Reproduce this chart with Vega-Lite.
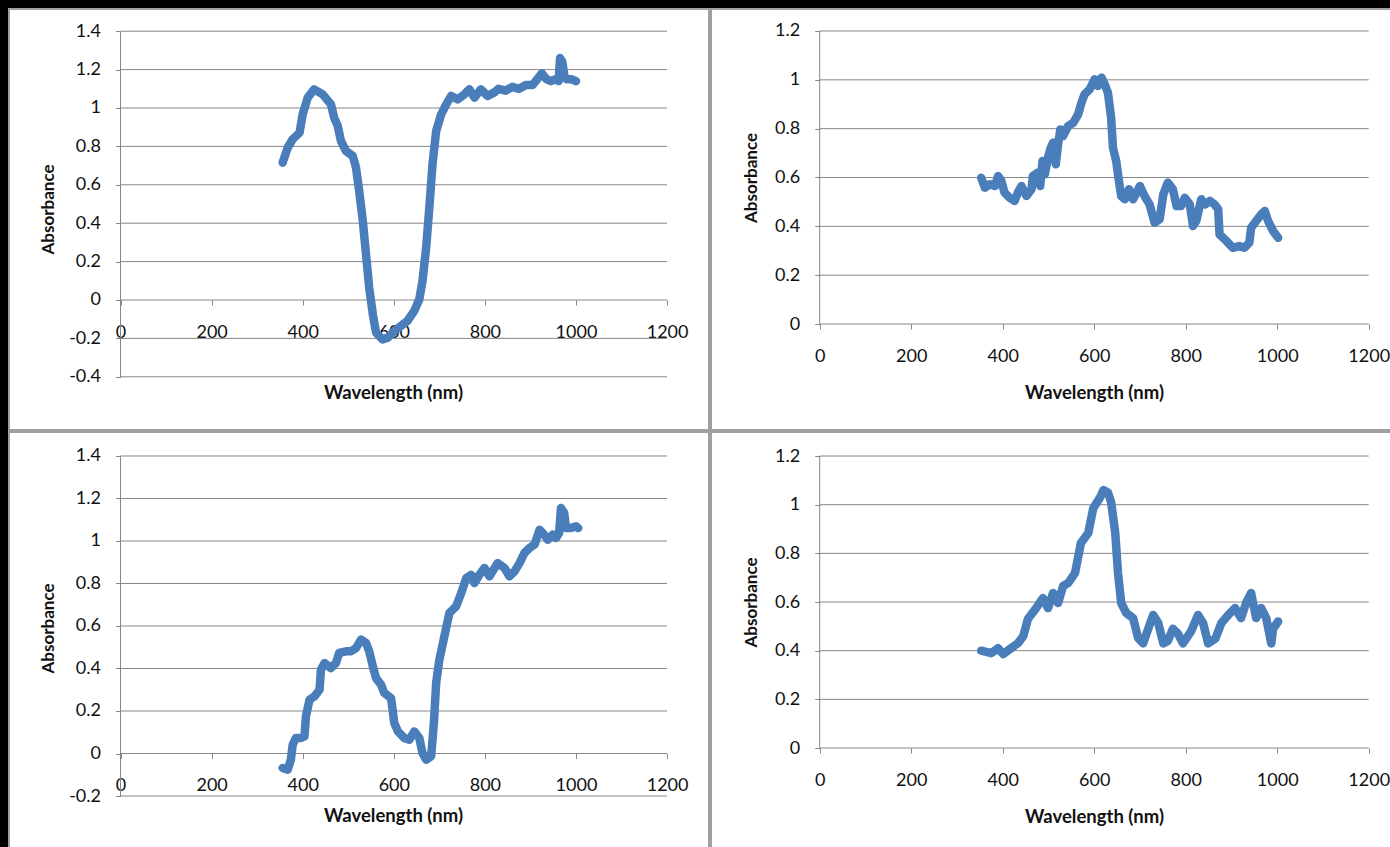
{
  "$schema": "https://vega.github.io/schema/vega-lite/v6.json",
  "background": "black",
  "padding": {"left": 8, "top": 8, "right": 0, "bottom": 0},
  "spacing": 0,
  "datasets": {
    "p1": [
      {"wl": 356, "a": 0.715}, {"wl": 367, "a": 0.793}, {"wl": 378, "a": 0.837}, {"wl": 393, "a": 0.871}, {"wl": 400, "a": 0.967},
      {"wl": 411, "a": 1.054}, {"wl": 425, "a": 1.097}, {"wl": 444, "a": 1.071}, {"wl": 462, "a": 1.019}, {"wl": 469, "a": 0.95},
      {"wl": 477, "a": 0.906}, {"wl": 484, "a": 0.828}, {"wl": 495, "a": 0.776}, {"wl": 510, "a": 0.75}, {"wl": 517, "a": 0.689},
      {"wl": 524, "a": 0.568}, {"wl": 532, "a": 0.411}, {"wl": 539, "a": 0.238}, {"wl": 546, "a": 0.064}, {"wl": 554, "a": -0.075},
      {"wl": 561, "a": -0.17}, {"wl": 575, "a": -0.205}, {"wl": 587, "a": -0.196}, {"wl": 601, "a": -0.161}, {"wl": 616, "a": -0.135},
      {"wl": 630, "a": -0.109}, {"wl": 645, "a": -0.057}, {"wl": 656, "a": 0.004}, {"wl": 663, "a": 0.099}, {"wl": 671, "a": 0.272},
      {"wl": 678, "a": 0.481}, {"wl": 685, "a": 0.707}, {"wl": 693, "a": 0.88}, {"wl": 704, "a": 0.967}, {"wl": 715, "a": 1.019},
      {"wl": 726, "a": 1.063}, {"wl": 740, "a": 1.045}, {"wl": 755, "a": 1.071}, {"wl": 766, "a": 1.097}, {"wl": 777, "a": 1.054},
      {"wl": 791, "a": 1.097}, {"wl": 806, "a": 1.063}, {"wl": 820, "a": 1.08}, {"wl": 830, "a": 1.1}, {"wl": 845, "a": 1.09},
      {"wl": 860, "a": 1.11}, {"wl": 875, "a": 1.1}, {"wl": 890, "a": 1.12}, {"wl": 905, "a": 1.12}, {"wl": 915, "a": 1.15},
      {"wl": 925, "a": 1.18}, {"wl": 935, "a": 1.15}, {"wl": 945, "a": 1.14}, {"wl": 955, "a": 1.15}, {"wl": 962, "a": 1.14},
      {"wl": 965, "a": 1.26}, {"wl": 970, "a": 1.24}, {"wl": 975, "a": 1.16}, {"wl": 980, "a": 1.15}, {"wl": 990, "a": 1.15},
      {"wl": 1000, "a": 1.14}
    ],
    "p2": [
      {"wl": 353, "a": 0.599}, {"wl": 361, "a": 0.558}, {"wl": 372, "a": 0.572}, {"wl": 383, "a": 0.565}, {"wl": 390, "a": 0.606},
      {"wl": 397, "a": 0.586}, {"wl": 404, "a": 0.538}, {"wl": 415, "a": 0.517}, {"wl": 426, "a": 0.504}, {"wl": 433, "a": 0.538},
      {"wl": 441, "a": 0.565}, {"wl": 452, "a": 0.524}, {"wl": 463, "a": 0.552}, {"wl": 466, "a": 0.606}, {"wl": 477, "a": 0.62},
      {"wl": 482, "a": 0.565}, {"wl": 487, "a": 0.668}, {"wl": 492, "a": 0.613}, {"wl": 499, "a": 0.681}, {"wl": 504, "a": 0.716},
      {"wl": 510, "a": 0.743}, {"wl": 516, "a": 0.654}, {"wl": 521, "a": 0.736}, {"wl": 526, "a": 0.797}, {"wl": 532, "a": 0.77},
      {"wl": 543, "a": 0.811}, {"wl": 554, "a": 0.824}, {"wl": 565, "a": 0.859}, {"wl": 572, "a": 0.906}, {"wl": 579, "a": 0.941},
      {"wl": 590, "a": 0.961}, {"wl": 601, "a": 1.002}, {"wl": 608, "a": 0.975}, {"wl": 616, "a": 1.009}, {"wl": 623, "a": 0.982},
      {"wl": 630, "a": 0.947}, {"wl": 637, "a": 0.845}, {"wl": 641, "a": 0.722}, {"wl": 648, "a": 0.668}, {"wl": 654, "a": 0.586},
      {"wl": 659, "a": 0.524}, {"wl": 667, "a": 0.511}, {"wl": 676, "a": 0.552}, {"wl": 685, "a": 0.511}, {"wl": 700, "a": 0.565},
      {"wl": 710, "a": 0.524}, {"wl": 721, "a": 0.49}, {"wl": 732, "a": 0.415}, {"wl": 743, "a": 0.429}, {"wl": 751, "a": 0.531},
      {"wl": 761, "a": 0.579}, {"wl": 772, "a": 0.552}, {"wl": 780, "a": 0.483}, {"wl": 790, "a": 0.483}, {"wl": 798, "a": 0.517},
      {"wl": 809, "a": 0.49}, {"wl": 816, "a": 0.401}, {"wl": 823, "a": 0.422}, {"wl": 834, "a": 0.511}, {"wl": 842, "a": 0.49},
      {"wl": 853, "a": 0.504}, {"wl": 863, "a": 0.49}, {"wl": 871, "a": 0.47}, {"wl": 874, "a": 0.367}, {"wl": 889, "a": 0.34},
      {"wl": 903, "a": 0.312}, {"wl": 917, "a": 0.319}, {"wl": 928, "a": 0.312}, {"wl": 939, "a": 0.333}, {"wl": 943, "a": 0.394},
      {"wl": 954, "a": 0.422}, {"wl": 965, "a": 0.449}, {"wl": 973, "a": 0.463}, {"wl": 980, "a": 0.422}, {"wl": 991, "a": 0.381},
      {"wl": 1002, "a": 0.353}
    ],
    "p3": [
      {"wl": 356, "a": -0.068}, {"wl": 367, "a": -0.076}, {"wl": 374, "a": -0.029}, {"wl": 378, "a": 0.041}, {"wl": 385, "a": 0.073},
      {"wl": 396, "a": 0.073}, {"wl": 404, "a": 0.081}, {"wl": 407, "a": 0.175}, {"wl": 415, "a": 0.253}, {"wl": 426, "a": 0.269},
      {"wl": 437, "a": 0.3}, {"wl": 440, "a": 0.394}, {"wl": 448, "a": 0.426}, {"wl": 462, "a": 0.402}, {"wl": 473, "a": 0.426},
      {"wl": 480, "a": 0.473}, {"wl": 495, "a": 0.481}, {"wl": 506, "a": 0.481}, {"wl": 517, "a": 0.496}, {"wl": 528, "a": 0.536},
      {"wl": 539, "a": 0.52}, {"wl": 546, "a": 0.481}, {"wl": 554, "a": 0.41}, {"wl": 561, "a": 0.355}, {"wl": 572, "a": 0.324},
      {"wl": 579, "a": 0.285}, {"wl": 594, "a": 0.261}, {"wl": 601, "a": 0.144}, {"wl": 609, "a": 0.104}, {"wl": 623, "a": 0.073},
      {"wl": 634, "a": 0.065}, {"wl": 645, "a": 0.104}, {"wl": 656, "a": 0.073}, {"wl": 663, "a": 0.002}, {"wl": 671, "a": -0.029},
      {"wl": 682, "a": -0.013}, {"wl": 688, "a": 0.144}, {"wl": 693, "a": 0.332}, {"wl": 700, "a": 0.441}, {"wl": 711, "a": 0.551},
      {"wl": 722, "a": 0.661}, {"wl": 737, "a": 0.693}, {"wl": 748, "a": 0.755}, {"wl": 759, "a": 0.826}, {"wl": 770, "a": 0.841},
      {"wl": 777, "a": 0.802}, {"wl": 788, "a": 0.841}, {"wl": 799, "a": 0.873}, {"wl": 810, "a": 0.834}, {"wl": 828, "a": 0.896},
      {"wl": 843, "a": 0.873}, {"wl": 854, "a": 0.834}, {"wl": 865, "a": 0.857}, {"wl": 876, "a": 0.896}, {"wl": 887, "a": 0.944},
      {"wl": 898, "a": 0.967}, {"wl": 909, "a": 0.983}, {"wl": 920, "a": 1.053}, {"wl": 930, "a": 1.03}, {"wl": 938, "a": 1.006},
      {"wl": 949, "a": 1.03}, {"wl": 956, "a": 1.014}, {"wl": 963, "a": 1.038}, {"wl": 967, "a": 1.155}, {"wl": 974, "a": 1.132},
      {"wl": 978, "a": 1.061}, {"wl": 989, "a": 1.061}, {"wl": 1000, "a": 1.069}, {"wl": 1005, "a": 1.061}
    ],
    "p4": [
      {"wl": 353, "a": 0.4}, {"wl": 375, "a": 0.39}, {"wl": 390, "a": 0.41}, {"wl": 401, "a": 0.386}, {"wl": 418, "a": 0.41},
      {"wl": 433, "a": 0.43}, {"wl": 445, "a": 0.46}, {"wl": 455, "a": 0.53}, {"wl": 473, "a": 0.575}, {"wl": 488, "a": 0.616},
      {"wl": 499, "a": 0.575}, {"wl": 510, "a": 0.637}, {"wl": 521, "a": 0.596}, {"wl": 532, "a": 0.666}, {"wl": 543, "a": 0.678},
      {"wl": 558, "a": 0.719}, {"wl": 571, "a": 0.843}, {"wl": 587, "a": 0.884}, {"wl": 598, "a": 0.986}, {"wl": 613, "a": 1.03},
      {"wl": 620, "a": 1.06}, {"wl": 630, "a": 1.05}, {"wl": 637, "a": 1.01}, {"wl": 646, "a": 0.884}, {"wl": 652, "a": 0.72},
      {"wl": 659, "a": 0.596}, {"wl": 670, "a": 0.555}, {"wl": 685, "a": 0.534}, {"wl": 696, "a": 0.452}, {"wl": 707, "a": 0.43},
      {"wl": 718, "a": 0.49}, {"wl": 729, "a": 0.547}, {"wl": 740, "a": 0.514}, {"wl": 751, "a": 0.43}, {"wl": 761, "a": 0.44},
      {"wl": 772, "a": 0.49}, {"wl": 783, "a": 0.47}, {"wl": 794, "a": 0.43}, {"wl": 812, "a": 0.48}, {"wl": 827, "a": 0.547},
      {"wl": 838, "a": 0.514}, {"wl": 849, "a": 0.43}, {"wl": 865, "a": 0.45}, {"wl": 878, "a": 0.514}, {"wl": 893, "a": 0.547},
      {"wl": 908, "a": 0.575}, {"wl": 921, "a": 0.534}, {"wl": 932, "a": 0.596}, {"wl": 943, "a": 0.637}, {"wl": 954, "a": 0.534},
      {"wl": 965, "a": 0.575}, {"wl": 976, "a": 0.534}, {"wl": 987, "a": 0.43}, {"wl": 991, "a": 0.49}, {"wl": 1002, "a": 0.52}
    ],
    "g1": [{"v": -0.4}, {"v": -0.2}, {"v": 0}, {"v": 0.2}, {"v": 0.4}, {"v": 0.6}, {"v": 0.8}, {"v": 1}, {"v": 1.2}, {"v": 1.4}],
    "g2": [{"v": 0}, {"v": 0.2}, {"v": 0.4}, {"v": 0.6}, {"v": 0.8}, {"v": 1}, {"v": 1.2}],
    "g3": [{"v": -0.2}, {"v": 0}, {"v": 0.2}, {"v": 0.4}, {"v": 0.6}, {"v": 0.8}, {"v": 1}, {"v": 1.2}, {"v": 1.4}]
  },
  "vconcat": [
    {
      "spacing": 0,
      "hconcat": [
        {
          "width": 700, "height": 421,
          "layer": [
            {"data": {"name": "p1"}, "mark": {"type": "line", "color": "#4a7ebb", "strokeWidth": 8.5, "opacity": 0},
             "encoding": {
               "x": {"field": "wl", "type": "quantitative", "scale": {"domain": [-244.8, 1292.0], "nice": false, "zero": false},
                     "axis": {"orient": "bottom", "offset": -130, "values": [0, 200, 400, 600, 800, 1000, 1200], "title": "Wavelength (nm)", "titleX": 384, "titleY": 92}},
               "y": {"field": "a", "type": "quantitative", "scale": {"domain": [-0.6771, 1.5156], "nice": false, "zero": false},
                     "axis": {"orient": "left", "offset": -111.5, "values": [-0.4, -0.2, 0, 0.2, 0.4, 0.6, 0.8, 1, 1.2, 1.4], "title": "Absorbance", "titleX": -72.5, "titleY": 200}}
             }},
            {"data": {"name": "g1"}, "mark": {"type": "rule", "color": "#868686", "strokeWidth": 1},
             "encoding": {"x": {"datum": 0, "type": "quantitative"}, "x2": {"datum": 1200}, "y": {"field": "v", "type": "quantitative"}}},
            {"data": {"name": "g1"}, "mark": {"type": "rule", "color": "#868686", "strokeWidth": 1},
             "encoding": {"x": {"datum": 0, "type": "quantitative"}, "y": {"aggregate": "min", "field": "v", "type": "quantitative"}, "y2": {"aggregate": "max", "field": "v"}}},
            {"data": {"name": "p1"}, "mark": {"type": "line", "color": "#4a7ebb", "strokeWidth": 8.5, "strokeJoin": "round", "strokeCap": "round"},
             "encoding": {"x": {"field": "wl", "type": "quantitative"}, "y": {"field": "a", "type": "quantitative"}}}
          ]
        },
        {
          "width": 682, "height": 421,
          "layer": [
            {"data": {"name": "p2"}, "mark": {"type": "line", "color": "#4a7ebb", "strokeWidth": 8.5, "opacity": 0},
             "encoding": {
               "x": {"field": "wl", "type": "quantitative", "scale": {"domain": [-237.6, 1253.1], "nice": false, "zero": false},
                     "axis": {"orient": "bottom", "offset": -106, "values": [0, 200, 400, 600, 800, 1000, 1200], "title": "Wavelength (nm)", "titleX": 383, "titleY": 68}},
               "y": {"field": "a", "type": "quantitative", "scale": {"domain": [-0.434, 1.29], "nice": false, "zero": false},
                     "axis": {"orient": "left", "offset": -108.7, "values": [0, 0.2, 0.4, 0.6, 0.8, 1, 1.2], "title": "Absorbance", "titleX": -68.7, "titleY": 168.5}}
             }},
            {"data": {"name": "g2"}, "mark": {"type": "rule", "color": "#868686", "strokeWidth": 1},
             "encoding": {"x": {"datum": 0, "type": "quantitative"}, "x2": {"datum": 1200}, "y": {"field": "v", "type": "quantitative"}}},
            {"data": {"name": "g2"}, "mark": {"type": "rule", "color": "#868686", "strokeWidth": 1},
             "encoding": {"x": {"datum": 0, "type": "quantitative"}, "y": {"aggregate": "min", "field": "v", "type": "quantitative"}, "y2": {"aggregate": "max", "field": "v"}}},
            {"data": {"name": "p2"}, "mark": {"type": "line", "color": "#4a7ebb", "strokeWidth": 8.5, "strokeJoin": "round", "strokeCap": "round"},
             "encoding": {"x": {"field": "wl", "type": "quantitative"}, "y": {"field": "a", "type": "quantitative"}}}
          ]
        }
      ]
    },
    {
      "spacing": 0,
      "hconcat": [
        {
          "width": 700, "height": 418,
          "layer": [
            {"data": {"name": "p3"}, "mark": {"type": "line", "color": "#4a7ebb", "strokeWidth": 8.5, "opacity": 0},
             "encoding": {
               "x": {"field": "wl", "type": "quantitative", "scale": {"domain": [-244.8, 1292.0], "nice": false, "zero": false},
                     "axis": {"orient": "bottom", "offset": -96.5, "values": [0, 200, 400, 600, 800, 1000, 1200], "title": "Wavelength (nm)", "titleX": 384, "titleY": 61.5}},
               "y": {"field": "a", "type": "quantitative", "scale": {"domain": [-0.4541, 1.5129], "nice": false, "zero": false},
                     "axis": {"orient": "left", "offset": -111.5, "values": [-0.2, 0, 0.2, 0.4, 0.6, 0.8, 1, 1.2, 1.4], "title": "Absorbance", "titleX": -72.5, "titleY": 196}}
             }},
            {"data": {"name": "g3"}, "mark": {"type": "rule", "color": "#868686", "strokeWidth": 1},
             "encoding": {"x": {"datum": 0, "type": "quantitative"}, "x2": {"datum": 1200}, "y": {"field": "v", "type": "quantitative"}}},
            {"data": {"name": "g3"}, "mark": {"type": "rule", "color": "#868686", "strokeWidth": 1},
             "encoding": {"x": {"datum": 0, "type": "quantitative"}, "y": {"aggregate": "min", "field": "v", "type": "quantitative"}, "y2": {"aggregate": "max", "field": "v"}}},
            {"data": {"name": "p3"}, "mark": {"type": "line", "color": "#4a7ebb", "strokeWidth": 8.5, "strokeJoin": "round", "strokeCap": "round"},
             "encoding": {"x": {"field": "wl", "type": "quantitative"}, "y": {"field": "a", "type": "quantitative"}}}
          ]
        },
        {
          "width": 682, "height": 418,
          "layer": [
            {"data": {"name": "p4"}, "mark": {"type": "line", "color": "#4a7ebb", "strokeWidth": 8.5, "opacity": 0},
             "encoding": {
               "x": {"field": "wl", "type": "quantitative", "scale": {"domain": [-237.6, 1253.1], "nice": false, "zero": false},
                     "axis": {"orient": "bottom", "offset": -102, "values": [0, 200, 400, 600, 800, 1000, 1200], "title": "Wavelength (nm)", "titleX": 383, "titleY": 68}},
               "y": {"field": "a", "type": "quantitative", "scale": {"domain": [-0.4192, 1.2988], "nice": false, "zero": false},
                     "axis": {"orient": "left", "offset": -108.7, "values": [0, 0.2, 0.4, 0.6, 0.8, 1, 1.2], "title": "Absorbance", "titleX": -68.7, "titleY": 170}}
             }},
            {"data": {"name": "g2"}, "mark": {"type": "rule", "color": "#868686", "strokeWidth": 1},
             "encoding": {"x": {"datum": 0, "type": "quantitative"}, "x2": {"datum": 1200}, "y": {"field": "v", "type": "quantitative"}}},
            {"data": {"name": "g2"}, "mark": {"type": "rule", "color": "#868686", "strokeWidth": 1},
             "encoding": {"x": {"datum": 0, "type": "quantitative"}, "y": {"aggregate": "min", "field": "v", "type": "quantitative"}, "y2": {"aggregate": "max", "field": "v"}}},
            {"data": {"name": "p4"}, "mark": {"type": "line", "color": "#4a7ebb", "strokeWidth": 8.5, "strokeJoin": "round", "strokeCap": "round"},
             "encoding": {"x": {"field": "wl", "type": "quantitative"}, "y": {"field": "a", "type": "quantitative"}}}
          ]
        }
      ]
    }
  ],
  "config": {
    "view": {"stroke": "#a0a0a0", "strokeWidth": 2, "fill": "white"},
    "axis": {
      "domain": false, "grid": false, "ticks": true, "tickSize": 5, "tickColor": "#868686", "tickWidth": 1,
      "labelFont": "Lato", "labelFontSize": 18, "labelColor": "#111111", "labelOverlap": false, "labelFlush": false,
      "labelExpr": "'' + datum.value",
      "titleFont": "Lato", "titleFontSize": 18.5, "titleFontWeight": "bold", "titleColor": "#111111",
      "titleAlign": "center", "titleBaseline": "middle"
    },
    "axisX": {"labelPadding": 18},
    "axisY": {"labelPadding": 15, "titleAngle": 270, "titleFontSize": 17}
  }
}
